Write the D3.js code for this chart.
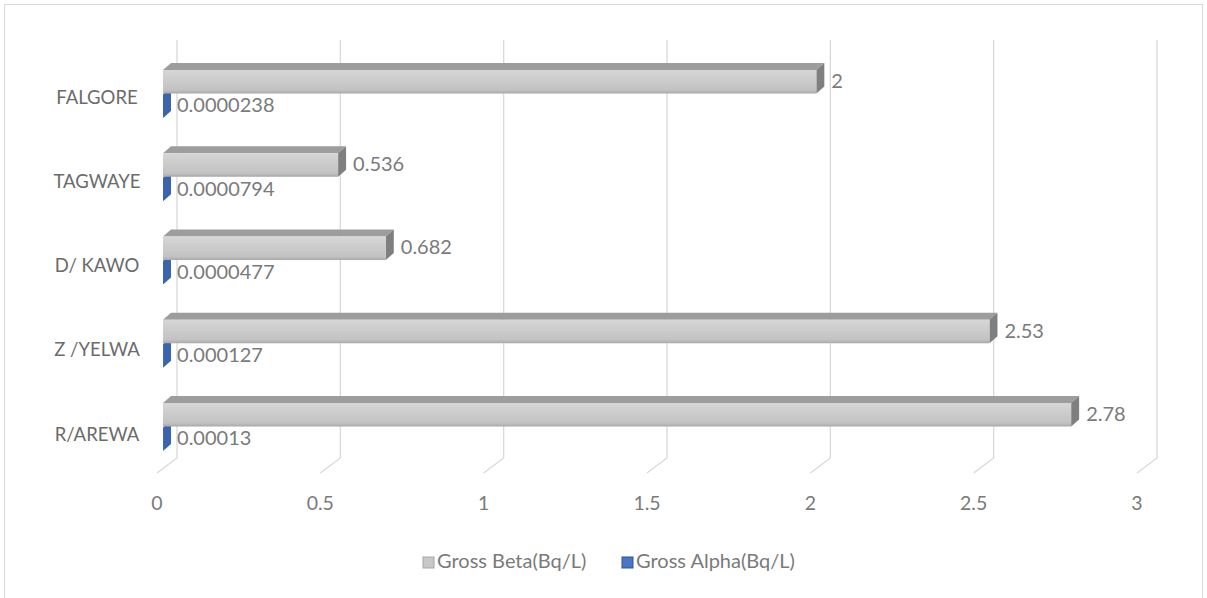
<!DOCTYPE html>
<html><head><meta charset="utf-8">
<script src="https://cdn.jsdelivr.net/npm/d3@7"></script>
<style>body{margin:0;background:#fff}svg{display:block}text{font-family:Lato,"Open Sans",sans-serif}</style>
</head><body>
<svg id="c" width="1207" height="598"></svg>
<script>
const categories = ["FALGORE","TAGWAYE","D/ KAWO","Z /YELWA","R/AREWA"];
const seriesNames = ["Gross Beta(Bq/L)","Gross Alpha(Bq/L)"];
const grossBeta = [2, 0.536, 0.682, 2.53, 2.78];
const grossAlpha = [0.0000238, 0.0000794, 0.0000477, 0.000127, 0.00013];
const betaLabels = ["2","0.536","0.682","2.53","2.78"];
const alphaLabels = ["0.0000238","0.0000794","0.0000477","0.000127","0.00013"];
const xTicks = [0,0.5,1,1.5,2,2.5,3];

const svg = d3.select("#c");
const defs = svg.append("defs");
const gBeta = defs.append("linearGradient").attr("id","gb").attr("x1",0).attr("y1",0).attr("x2",0).attr("y2",1);
gBeta.append("stop").attr("offset","0%").attr("stop-color","#d6d6d6");
gBeta.append("stop").attr("offset","85%").attr("stop-color","#c2c2c2");
gBeta.append("stop").attr("offset","100%").attr("stop-color","#a9a9a9");
const gAlpha = defs.append("linearGradient").attr("id","ga").attr("x1",0).attr("y1",0).attr("x2",0).attr("y2",1);
gAlpha.append("stop").attr("offset","0%").attr("stop-color","#5a82c8");
gAlpha.append("stop").attr("offset","100%").attr("stop-color","#2f5597");

// frame
svg.append("rect").attr("x",4.5).attr("y",4.5).attr("width",1198).attr("height",600)
  .attr("fill","none").attr("stroke","#d9d9d9");

const x = d3.scaleLinear().domain([0,3]).range([163,1143]);
const y = d3.scaleBand().domain(categories).range([62, 62+5*83.25]);
const inner = d3.scaleBand().domain(seriesNames).range([8,56]).paddingInner(0.04);
const bh = inner.bandwidth();
const dx = 8, dy = -7;       // bar depth
const backDx = 14, backTop = 40, backBottom = 458; // back wall
const floorDx = -6, floorBottom = 473;

// gridlines on back wall + floor diagonal
const grid = svg.append("g");
xTicks.forEach(v => {
  const xb = x(v) + backDx;
  grid.append("path")
    .attr("d", `M${xb},${backTop}L${xb},${backBottom}L${x(v)+floorDx},${floorBottom}`)
    .attr("fill","none").attr("stroke","#d9d9d9").attr("stroke-width",1.3);
});

// axis tick labels
svg.append("g").selectAll("text").data(xTicks).join("text")
  .attr("x", d => x(d)+floorDx).attr("y", 505)
  .attr("text-anchor","middle").attr("dominant-baseline","middle")
  .attr("font-size",19.5).attr("fill","#7a7a7a")
  .text(d => d3.format("")(d));

// category labels
svg.append("g").selectAll("text").data(categories).join("text")
  .attr("x", 97).attr("y", (d,i) => y(d)+37+i)
  .attr("text-anchor","middle").attr("dominant-baseline","middle")
  .attr("font-size",18.5).attr("fill","#6b6b6b")
  .text(d => d);

function drawBar(g, x0, x1, y0, h, front, top, side){
  g.append("path").attr("d",`M${x0},${y0}L${x0+dx},${y0+dy}L${x1+dx},${y0+dy}L${x1},${y0}Z`).attr("fill",top);
  g.append("path").attr("d",`M${x1},${y0}L${x1+dx},${y0+dy}L${x1+dx},${y0+dy+h}L${x1},${y0+h}Z`).attr("fill",side);
  if (x1 - x0 > 0.5)
    g.append("rect").attr("x",x0).attr("y",y0).attr("width",x1-x0).attr("height",h).attr("fill",front);
}

const bars = svg.append("g");
categories.forEach((c,i) => {
  const ya = y(c) + inner(seriesNames[1]);
  drawBar(bars, x(0), x(grossAlpha[i]), ya, bh, "url(#ga)", "#6f93d2", "#3a64ad");
  const yb = y(c) + inner(seriesNames[0]);
  drawBar(bars, x(0), x(grossBeta[i]), yb, bh, "url(#gb)", "#9d9d9d", "#7f7f7f");
});

// value labels
const lab = svg.append("g").attr("font-size",20).attr("fill","#7a7a7a");
categories.forEach((c,i) => {
  const yb = y(c) + inner(seriesNames[0]);
  lab.append("text").attr("x", x(grossBeta[i]) + 15).attr("y", yb + bh/2 + 1)
    .attr("dominant-baseline","middle").text(betaLabels[i]);
  const ya = y(c) + inner(seriesNames[1]);
  lab.append("text").attr("x", x(grossAlpha[i]) + 14).attr("y", ya + bh/2 + 1)
    .attr("dominant-baseline","middle").text(alphaLabels[i]);
});

// legend
const legendItems = [{name:seriesNames[0], fill:"#c8c8c8", stroke:"#a6a6a6", x:423},
                     {name:seriesNames[1], fill:"#4a76c4", stroke:"#2f5597", x:622}];
const lg = svg.append("g");
legendItems.forEach(d => {
  lg.append("rect").attr("x",d.x).attr("y",557).attr("width",11).attr("height",11)
    .attr("fill",d.fill).attr("stroke",d.stroke);
  lg.append("text").attr("x",d.x+14).attr("y",563).attr("dominant-baseline","middle")
    .attr("font-size",20).attr("fill","#7a7a7a").text(d.name);
});
</script>
</body></html>
